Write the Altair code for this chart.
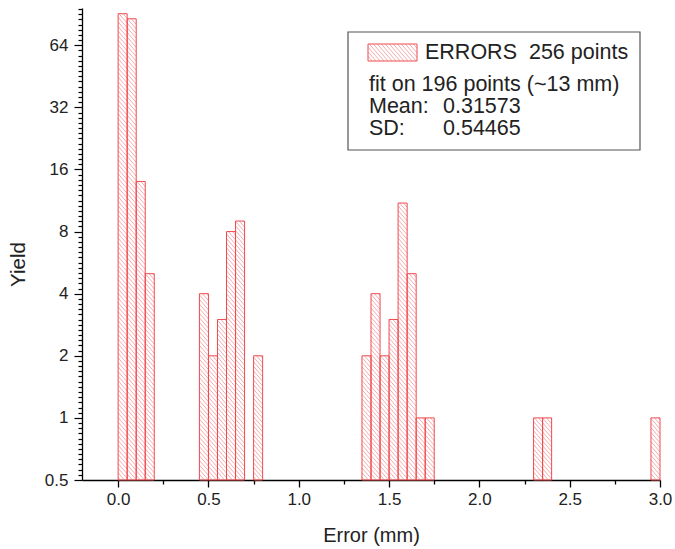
import math
import altair as alt
import pandas as pd

# ---------------- data ----------------
bin_start = [0.00, 0.05, 0.10, 0.15,
             0.45, 0.50, 0.55, 0.60, 0.65, 0.75,
             1.35, 1.40, 1.45, 1.50, 1.55, 1.60, 1.65, 1.70,
             2.30, 2.35,
             2.95]
counts = [91, 86, 14, 5,
          4, 2, 3, 8, 9, 2,
          2, 4, 2, 3, 11, 5, 1, 1,
          1, 1,
          1]
bin_width = 0.05

x_major = [0.0, 0.5, 1.0, 1.5, 2.0, 2.5, 3.0]
x_minor = [0.25, 0.75, 1.25, 1.75, 2.25, 2.75]
y_major = [0.5, 1, 2, 4, 8, 16, 32, 64]

legend_title = "ERRORS\u00a0\u00a0256 points"
legend_line2 = "fit on 196 points (~13 mm)"
legend_keys = ["Mean:", "SD:"]
legend_vals = ["0.31573", "0.54465"]

x_title = "Error (mm)"
y_title = "Yield"

# ---------------- layout ----------------
W, H = 578, 472
XMIN, XMAX = -0.2, 3.0
YMIN, YMAX = 0.5, 97.0
FONT = "Liberation Sans"
RED = "#f04a4f"
HATCH = "#f3a3a6"
TXT = "#222222"

y_minor = []
for k in range(-1, 7):
    for j in range(1, 12):
        v = 2 ** (k + j / 12)
        if v < YMAX:
            y_minor.append(v)

L2 = math.log2(YMAX / YMIN)


def x_to_px(x):
    return (x - XMIN) / (XMAX - XMIN) * W


def y_to_py(y):
    return H - math.log2(y / YMIN) / L2 * H


def px_to_x(px):
    return XMIN + px / W * (XMAX - XMIN)


def py_to_y(py):
    return YMIN * 2 ** ((H - py) / H * L2)


def hatch(xa, xb, yt, yb, slope=1.15, sv=4.6):
    segs = []
    cmin = yt - slope * xb
    cmax = yb - slope * xa
    for k in range(math.ceil(cmin / sv), math.floor(cmax / sv) + 1):
        c = k * sv
        x1 = max(xa, (yt - c) / slope)
        x2 = min(xb, (yb - c) / slope)
        if x2 - x1 > 0.3:
            segs.append({"x1": px_to_x(x1), "y1": py_to_y(slope * x1 + c),
                         "x2": px_to_x(x2), "y2": py_to_y(slope * x2 + c)})
    return segs


bars = pd.DataFrame({
    "start": bin_start,
    "end": [s + bin_width for s in bin_start],
    "count": counts,
    "base": [YMIN] * len(counts),
})

bar_hatch = []
for s, c in zip(bin_start, counts):
    bar_hatch += hatch(x_to_px(s), x_to_px(s + bin_width), y_to_py(c), H)
bar_hatch = pd.DataFrame(bar_hatch)

SW = (286, 335, 36, 53)  # legend swatch box (pixels in plot area)
sw_hatch = pd.DataFrame(hatch(*SW))

xscale = alt.Scale(domain=[XMIN, XMAX], nice=False, zero=False)
yscale = alt.Scale(type="log", base=2, domain=[YMIN, YMAX], nice=False)

major_x_test = "abs(datum.value*2 - round(datum.value*2)) < 0.001"
major_y_test = "abs(log(datum.value)/LN2 - round(log(datum.value)/LN2)) < 0.001"

x_axis = alt.Axis(
    values=x_major + x_minor,
    labelExpr=f"{major_x_test} ? format(datum.value, '.1f') : ''",
    tickSize={"condition": {"test": major_x_test, "value": 7}, "value": 4},
    tickColor="black", tickWidth=1.3, domainColor="black", domainWidth=1.3,
    labelFont=FONT, labelFontSize=17, labelColor=TXT, labelPadding=4,
    labelOverlap=False, labelFlush=False, grid=False,
    title=x_title, titleFont=FONT, titleFontSize=20, titleFontWeight="normal",
    titleColor=TXT, titleY=55, titleBaseline="middle",
)
y_axis = alt.Axis(
    values=y_major + y_minor,
    labelExpr=f"{major_y_test} ? (datum.value < 1 ? format(datum.value, '.1f') : format(datum.value, 'd')) : ''",
    tickSize={"condition": {"test": major_y_test, "value": 8}, "value": 4},
    tickColor="black", tickWidth=1.2, domainColor="black", domainWidth=1.3,
    labelFont=FONT, labelFontSize=17, labelColor=TXT, labelPadding=6,
    labelOverlap=False, labelFlush=False, grid=False,
    title=y_title, titleFont=FONT, titleFontSize=20.5, titleFontWeight="normal",
    titleColor=TXT, titleX=-64, titleY=256, titleBaseline="middle", titleAngle=-90,
)

hatch_layer = alt.Chart(bar_hatch).mark_rule(color=HATCH, strokeWidth=0.9).encode(
    x=alt.X("x1:Q", scale=xscale, axis=x_axis), x2="x2:Q",
    y=alt.Y("y1:Q", scale=yscale, axis=y_axis), y2="y2:Q",
)

bar_layer = alt.Chart(bars).mark_rect(
    fill="white", fillOpacity=0, stroke=RED, strokeWidth=1
).encode(
    x=alt.X("start:Q", scale=xscale, axis=x_axis), x2="end:Q",
    y=alt.Y("count:Q", scale=yscale, axis=y_axis), y2="base:Q",
)

one = pd.DataFrame({"a": [0]})

legend_box = alt.Chart(one).mark_rect(
    fill="white", stroke="#555555", strokeWidth=1.2
).encode(x=alt.value(266), x2=alt.value(558), y=alt.value(24), y2=alt.value(142))

sw_hatch_layer = alt.Chart(sw_hatch).mark_rule(color=HATCH, strokeWidth=0.9).encode(
    x=alt.X("x1:Q", scale=xscale, axis=x_axis), x2="x2:Q",
    y=alt.Y("y1:Q", scale=yscale, axis=y_axis), y2="y2:Q",
)

sw_box = alt.Chart(one).mark_rect(
    fill="white", fillOpacity=0, stroke=RED, strokeWidth=1
).encode(x=alt.value(SW[0]), x2=alt.value(SW[1]), y=alt.value(SW[2]), y2=alt.value(SW[3]))


def txt(s, x, y):
    return alt.Chart(one).mark_text(
        text=s, align="left", baseline="middle", font=FONT, fontSize=21.5, color=TXT
    ).encode(x=alt.value(x), y=alt.value(y))


texts = [
    txt(legend_title, 343, 45),
    txt(legend_line2, 287, 77),
    txt(legend_keys[0], 287, 99),
    txt(legend_vals[0], 361, 99),
    txt(legend_keys[1], 287, 121),
    txt(legend_vals[1], 361, 121),
]

chart = alt.layer(
    hatch_layer, bar_layer, legend_box, sw_hatch_layer, sw_box, *texts
).properties(
    width=W, height=H,
    autosize=alt.AutoSizeParams(type="none"),
    padding={"left": 82, "top": 8, "right": 15, "bottom": 69},
    background="white",
).configure_view(stroke=None)

chart.save("out.html", embed_options={"renderer": "svg", "actions": False})
